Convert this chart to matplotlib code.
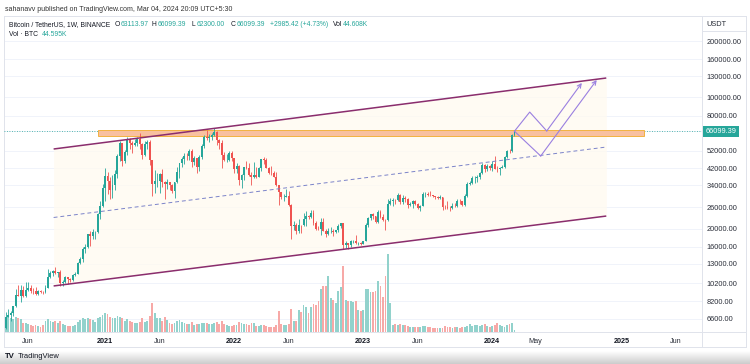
import matplotlib
matplotlib.use("Agg")
import matplotlib.pyplot as plt
import matplotlib.dates as mdates
from matplotlib.patches import Rectangle
from matplotlib.lines import Line2D
from matplotlib.ticker import NullLocator
import numpy as np
import pandas as pd

plt.rcParams['font.family'] = ['Liberation Sans', 'DejaVu Sans']

# ---------------- data (weekly BTC/USDT candles) ----------------
start_date = '2020-03-30'
first_open = 5880.0
closes = [6775, 6910, 7120, 7690, 8890, 8720, 9380, 8720, 9450, 9660,
          9340, 9290, 9000, 9290, 9230, 9160, 9700, 11050, 11600, 11850,
          11650, 11710, 10250, 10330, 11070, 10750, 10670, 11380, 11500, 13030,
          13800, 15480, 16050, 18700, 18180, 19150, 19170, 23800, 26450, 33000,
          38200, 36000, 32100, 34300, 39200, 48600, 57500, 46100, 51000, 59000,
          57300, 55800, 57100, 59800, 56200, 49100, 56600, 58200, 46400, 34700,
          35700, 35800, 39000, 35600, 34700, 35300, 34300, 31800, 35400, 39900,
          44600, 47100, 48900, 48800, 51800, 45100, 47300, 42700, 48200, 54900,
          61500, 61000, 61300, 63300, 65500, 59700, 57300, 49400, 46700, 46700,
          50800, 47300, 41800, 43100, 36300, 38400, 42400, 42200, 38400, 37700,
          38800, 37800, 42200, 46800, 46400, 42200, 39700, 39450, 37650, 34100,
          31300, 29450, 29450, 29900, 26600, 20600, 21000, 19300, 20850, 20800,
          22600, 23300, 23200, 24300, 21500, 20000, 19800, 21800, 19400, 18800,
          19300, 19400, 19200, 19570, 20600, 21300, 16300, 16700, 16450, 17100,
          17100, 16800, 16850, 16600, 17200, 20900, 22700, 23800, 23300, 21800,
          24650, 23200, 22200, 22100, 26900, 27900, 28500, 28300, 30300, 27800,
          29200, 28900, 26800, 27100, 28100, 27100, 25900, 26300, 30500, 30600,
          30300, 30250, 29800, 29300, 29050, 29300, 26100, 26000, 25850, 25830,
          26500, 26250, 27980, 27950, 26850, 29900, 34500, 35000, 37100, 37400,
          37450, 39450, 43800, 41400, 43000, 42280, 43950, 41700, 41550, 42000,
          42600, 48300, 52100, 51700, 63113.97, 66099.39]
highs = [7200, 7470, 7300, 7780, 9470, 10060, 9950, 9840, 10430, 10380,
         9990, 9610, 9790, 9440, 9460, 9270, 10000, 12120, 11920, 12090,
         12480, 11760, 12090, 10590, 11180, 10960, 10960, 11490, 11720, 13350,
         14100, 15960, 16480, 18820, 19480, 19920, 19420, 24300, 28000, 34780,
         41950, 40100, 37850, 38560, 40950, 49720, 58350, 57530, 52640, 61850,
         61180, 58400, 60200, 61300, 64850, 57200, 58460, 59600, 59600, 46600,
         40850, 39480, 39500, 41330, 36000, 36600, 35200, 34700, 35400, 42600,
         44800, 48200, 50500, 50500, 52950, 52920, 48850, 47700, 49200, 56550,
         62900, 67000, 63700, 64300, 69000, 66300, 59800, 59100, 51000, 50000,
         51800, 52100, 47600, 44500, 43500, 38900, 42600, 45850, 44750, 40000,
         45400, 42600, 42400, 47000, 48200, 47500, 42500, 42980, 40800, 40000,
         34250, 31300, 30500, 32400, 31750, 26900, 22000, 21550, 22500, 21000,
         24280, 24670, 23650, 25200, 25210, 21850, 20580, 22800, 22700, 19950,
         20200, 20470, 19950, 19700, 21100, 21480, 21480, 17200, 16800, 17400,
         17430, 18400, 16950, 16950, 17200, 21300, 23100, 23950, 24250, 23450,
         25250, 25000, 23880, 22600, 28800, 29200, 29200, 28800, 31000, 30500,
         30050, 29850, 29000, 27650, 28450, 28450, 27350, 26800, 31400, 31280,
         31500, 31800, 30350, 29900, 30000, 30250, 29650, 26800, 28150, 26400,
         27500, 27500, 28600, 28600, 28100, 30500, 35280, 35980, 38000, 37980,
         38400, 40250, 44700, 44000, 44400, 43800, 45900, 48970, 43200, 42850,
         43880, 48600, 52800, 52990, 64000, 66099.39]
lows = [5860, 6750, 6460, 6800, 7630, 8700, 8120, 8650, 8630, 9250,
        9100, 8950, 8830, 8900, 9050, 8970, 9100, 9620, 10950, 11130,
        11400, 11080, 9880, 9890, 10210, 10140, 10370, 10530, 11240, 11410,
        12950, 13230, 14830, 15800, 16190, 17570, 17650, 19000, 22400, 26000,
        28130, 30420, 28850, 29240, 32300, 37370, 46000, 43000, 45000, 49280,
        53270, 50430, 55000, 55400, 53000, 47000, 48750, 53000, 43820, 30000,
        31100, 33400, 31000, 33340, 28800, 32700, 32100, 31000, 29280, 35200,
        37330, 42800, 43950, 46400, 46500, 42800, 43400, 39600, 40750, 47100,
        53900, 59500, 57800, 59400, 62300, 55600, 53250, 42000, 45600, 45500,
        45600, 45700, 39650, 39800, 34000, 32900, 36250, 41700, 38000, 34300,
        37150, 37150, 37600, 40500, 44200, 42100, 39200, 38600, 37580, 33700,
        26700, 28600, 28000, 29300, 26550, 17600, 19600, 18800, 18950, 18900,
        20700, 20700, 22450, 22650, 20800, 19600, 19550, 18550, 19300, 18130,
        18500, 19050, 18190, 18900, 19250, 20050, 15600, 15800, 15480, 16000,
        16730, 16550, 16300, 16300, 16500, 17100, 20400, 22300, 22500, 21350,
        21500, 22750, 21950, 19550, 21850, 26600, 26500, 27200, 28200, 27100,
        26950, 27650, 25800, 26500, 25900, 26600, 25350, 24800, 26250, 29500,
        29700, 29950, 29500, 28900, 28600, 28700, 25150, 25300, 25330, 24900,
        25400, 26150, 25990, 27150, 26550, 26550, 29650, 34080, 34550, 35000,
        35650, 36700, 39000, 40200, 40550, 41300, 40750, 41500, 40280, 38550,
        41850, 42300, 47600, 50520, 50900, 62300]
volumes_k = [300, 330, 300, 280, 340, 320, 290, 200, 210, 180,
             150, 140, 150, 130, 120, 160, 240, 290, 250, 230,
             240, 200, 240, 180, 150, 140, 130, 130, 150, 230,
             260, 300, 280, 310, 290, 270, 230, 300, 340, 380,
             420, 400, 330, 300, 300, 360, 340, 320, 250, 280,
             240, 220, 200, 190, 230, 300, 230, 240, 360, 640,
             420, 300, 300, 250, 330, 260, 200, 180, 200, 240,
             260, 220, 200, 170, 180, 220, 160, 170, 180, 200,
             210, 200, 180, 170, 190, 220, 170, 240, 180, 150,
             140, 130, 160, 150, 230, 210, 180, 170, 150, 200,
             190, 140, 140, 160, 150, 140, 110, 110, 120, 160,
             460, 170, 150, 160, 170, 510, 240, 240, 480, 440,
             590, 550, 420, 550, 620, 590, 680, 950, 1010, 1030,
             1250, 750, 700, 640, 900, 990, 1470, 700, 680, 680,
             660, 680, 480, 460, 480, 950, 950, 880, 880, 900,
             1120, 1030, 770, 1230, 1720, 640, 160, 170, 150, 170,
             160, 150, 140, 120, 110, 100, 110, 100, 140, 130,
             120, 100, 90, 80, 90, 90, 80, 140, 110, 100,
             90, 100, 100, 90, 110, 100, 130, 170, 140, 160,
             150, 140, 150, 170, 140, 120, 130, 150, 200, 150,
             140, 110, 160, 170, 190, 44.608]

price_ticks = [6600, 8200, 10200, 13000, 16000, 20000, 26000, 34000, 42000,
               52000, 80000, 100000, 130000, 160000, 200000]
time_tick_dates = ['2020-06-01', '2021-01-04', '2021-06-07', '2022-01-03', '2022-06-06',
                   '2023-01-02', '2023-06-05', '2024-01-01', '2024-05-01', '2025-01-01',
                   '2025-06-01']
time_tick_labels = ['Jun', '2021', 'Jun', '2022', 'Jun', '2023', 'Jun', '2024', 'May', '2025', 'Jun']

# drawings on the chart (anchor points in date / price)
channel_dates = ['2020-08-12', '2024-11-18']
channel_upper = [53130, 127000]
channel_lower = [9890, 23330]
channel_mid = [22920, 54430]
zone_dates = ['2020-12-15', '2025-03-04']
zone_prices = [62550, 66830]
path1_dates = ['2024-03-04', '2024-04-16', '2024-06-03', '2024-09-10']
path1_prices = [66099.39, 83600, 66300, 119500]
path2_dates = ['2024-03-04', '2024-05-17', '2024-10-22']
path2_prices = [66099.39, 48750, 123900]

# ---------------- figure ----------------
W, H = 750, 364
fig = plt.figure(figsize=(7.5, 3.64), dpi=100)
fig.patch.set_facecolor('white')
renderer = fig.canvas.get_renderer()


def fx(px):
    return px / W


def fy(py):
    return 1 - py / H


L, R, T, B = 4, 702, 16, 332
rect = [fx(L), fy(B), fx(R) - fx(L), fy(T) - fy(B)]

dates = pd.date_range(start_date, periods=len(closes), freq='7D')
x = mdates.date2num(dates.to_pydatetime())
o = np.array([first_open] + closes[:-1], dtype=float)
c = np.array(closes, dtype=float)
h = np.array(highs, dtype=float)
l = np.array(lows, dtype=float)
v = np.array(volumes_k, dtype=float)
up = c >= o

xmin = mdates.date2num(pd.Timestamp('2020-03-25'))
xmax = mdates.date2num(pd.Timestamp('2025-08-15'))
ymin, ymax = 5620, 271900

# grid (background axes)
axg = fig.add_axes(rect, zorder=0)
axg.set_yscale('log')
axg.set_xlim(xmin, xmax)
axg.set_ylim(ymin, ymax)
for p in price_ticks + [66099.39]:
    axg.axhline(p, color='#f0f3fa', lw=0.7)
axg.axis('off')

# volume axes
axv = fig.add_axes(rect, zorder=1)
axv.set_facecolor('none')
vcol = np.where(up, '#92d2cc', '#f7a9a7')
axv.bar(x, v, width=5.2, color=vcol, lw=0)
axv.set_xlim(xmin, xmax)
axv.set_ylim(0, 7000)
axv.axis('off')

# price axes
ax = fig.add_axes(rect, zorder=2)
ax.set_facecolor('none')
ax.set_yscale('log')
ax.set_xlim(xmin, xmax)
ax.set_ylim(ymin, ymax)

# channel
cx = mdates.date2num(pd.to_datetime(channel_dates))
ax.fill_between(cx, channel_lower, channel_upper, color='#fffaf0', alpha=0.8, lw=0, zorder=1)
ax.plot(cx, channel_upper, color='#8a2d6d', lw=1.1, zorder=6, solid_capstyle='butt')
ax.plot(cx, channel_lower, color='#8a2d6d', lw=1.1, zorder=6, solid_capstyle='butt')
ax.plot(cx, channel_mid, color='#7b83c9', lw=0.7, ls=(0, (4, 3)), zorder=6)

# orange zone
zx = mdates.date2num(pd.to_datetime(zone_dates))
ax.add_patch(Rectangle((zx[0], zone_prices[0]), zx[1] - zx[0], zone_prices[1] - zone_prices[0],
                       facecolor='#f8c0a0', edgecolor='#f2b240', lw=0.7, zorder=3))

# last price dotted line
ax.axhline(closes[-1], color='#26a69a', lw=0.6, ls=(0, (1, 2)), zorder=2)

# candles
col = np.where(up, '#26a69a', '#ef5350')
ax.vlines(x, l, h, colors=col, lw=0.6, zorder=4)
lo = np.minimum(o, c)
hi = np.maximum(o, c)
ax.bar(x, hi - lo, bottom=lo, width=5.4, color=col, lw=0, zorder=5)

# projection paths
pc = '#9a7fe0'
for pd_, pp in ((path1_dates, path1_prices), (path2_dates, path2_prices)):
    px_ = mdates.date2num(pd.to_datetime(pd_))
    ax.plot(px_[:-1], pp[:-1], color=pc, lw=0.8, zorder=7)
    ax.annotate('', xy=(px_[-1], pp[-1]), xytext=(px_[-2], pp[-2]),
                arrowprops=dict(arrowstyle='->', color=pc, lw=0.8, shrinkA=0, shrinkB=0,
                                mutation_scale=7), zorder=7)

# axes ticks
ax.yaxis.tick_right()
ax.set_yticks(price_ticks)
ax.set_yticklabels([f'{p:.2f}' for p in price_ticks])
ax.yaxis.set_minor_locator(NullLocator())
ax.tick_params(axis='y', length=0, pad=3.5, labelsize=5.3, labelcolor='#2a2e39')
tx = mdates.date2num(pd.to_datetime(time_tick_dates))
ax.set_xticks(tx)
ax.set_xticklabels(time_tick_labels)
ax.tick_params(axis='x', length=0, pad=4.5, labelsize=5.2, labelcolor='#2a2e39')
for t, lab in zip(ax.get_xticklabels(), time_tick_labels):
    if lab.isdigit():
        t.set_fontweight('bold')
        t.set_color('#131722')
for s in ax.spines.values():
    s.set_visible(False)

# last price label
ax.annotate(f'{closes[-1]:.2f}', xy=(1, closes[-1]), xycoords=('axes fraction', 'data'),
            xytext=(3.5, 0), textcoords='offset pixels', ha='left', va='center',
            fontsize=5.3, color='white', annotation_clip=False, zorder=10,
            bbox=dict(boxstyle='square,pad=0.3', fc='#26a69a', ec='none'))

# pane borders
bc = '#e0e3eb'
for (x0, y0, x1, y1) in [(L, T, 746, T), (L, 347, 746, 347), (L, T, L, 347), (746, T, 746, 347),
                         (R, T, R, 347), (L, B, 746, B), (R, 31, 746, 31)]:
    fig.add_artist(Line2D([fx(x0), fx(x1)], [fy(y0), fy(y1)], color=bc, lw=0.7))

fig.text(fx(706), fy(24), 'USDT', fontsize=5.3, color='#2a2e39', ha='left', va='center')

# header & legend
dark = '#131722'
teal = '#26a69a'


def fit_size(text, target_px, base=5.0):
    t = fig.text(0, 0, text, fontsize=base)
    w = t.get_window_extent(renderer).width
    t.remove()
    return base * target_px / w


hs = fit_size('sahanavv published on TradingView.com, Mar 04, 2024 20:09 UTC+5:30', 228)
fig.text(fx(5), fy(9.3), 'sahanavv published on TradingView.com, Mar 04, 2024 20:09 UTC+5:30',
         fontsize=hs, color='#333333', ha='left', va='center')

fs = fit_size('Bitcoin / TetherUS, 1W, BINANCE', 103)


def text_run(x0, y0, pieces):
    xx = x0
    for txt, colr in pieces:
        t = fig.text(fx(xx), fy(y0), txt, fontsize=fs, color=colr, ha='left', va='center')
        xx += t.get_window_extent(renderer).width + 0.6


text_run(9, 24.7, [('Bitcoin / TetherUS, 1W, BINANCE', dark)])
text_run(115, 24.7, [('O', dark), ('63113.97', teal)])
text_run(152, 24.7, [('H', dark), ('66099.39', teal)])
text_run(192, 24.7, [('L', dark), ('62300.00', teal)])
text_run(231, 24.7, [('C', dark), ('66099.39', teal)])
text_run(270, 24.7, [('+2985.42 (+4.73%)', teal)])
text_run(333, 24.7, [('Vol', dark), ('44.608K', teal)])
text_run(9, 34.3, [('Vol \u00b7 BTC', dark)])
text_run(42, 34.3, [('44.595K', teal)])

# footer gradient + logo
axf = fig.add_axes([0, 0, 1, fy(351)], zorder=0)
grad = np.linspace(1.0, 0.80, 50).reshape(-1, 1)
axf.imshow(np.dstack([grad, grad, grad]), aspect='auto', extent=[0, 1, 0, 1])
axf.axis('off')
fig.text(fx(5), fy(356.5), 'TV', fontsize=5.6, fontweight='bold', color=dark, ha='left', va='center', zorder=5)
fig.text(fx(17.5), fy(356.5), 'TradingView', fontsize=5.4, color=dark, ha='left', va='center', zorder=5)

fig.savefig('out.png', dpi=100, facecolor='white')
